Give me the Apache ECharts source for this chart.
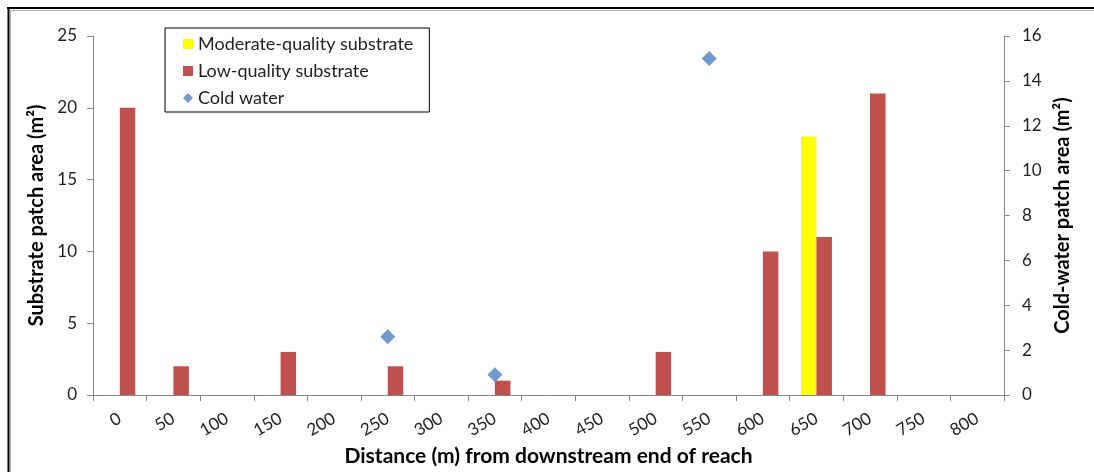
<!DOCTYPE html>
<html>
<head>
<meta charset="utf-8">
<title>Substrate and cold-water patches along the reach</title>
<script src="https://cdn.jsdelivr.net/npm/echarts@6/dist/echarts.min.js"></script>
<style>
  html, body { margin: 0; padding: 0; background: #fff; }
  #chart { width: 1094px; height: 472px; }
</style>
</head>
<body>
<div id="chart"></div>
<script>
// Distance from downstream end of reach (m)
const distances = ['0', '50', '100', '150', '200', '250', '300', '350', '400',
                   '450', '500', '550', '600', '650', '700', '750', '800'];

// Substrate patch areas (m²)
const moderateSubstrate = [null, null, null, null, null, null, null, null, null,
                           null, null, null, null, 18, null, null, null];
const lowSubstrate = [20, 2, null, 3, null, 2, null, 1, null,
                      null, 3, null, 10, 11, 21, null, null];

// Cold-water patch areas (m²)
const coldWater = [null, null, null, null, null, 2.6, null, 0.9, null,
                   null, null, 15, null, null, null, null, null];

const leftTicks = { min: 0, max: 25, interval: 5 };
const rightTicks = { min: 0, max: 16, interval: 2 };

const FONT = 'Lato';
const AXIS_GREY = '#868686';
const TEXT = '#1f1f1f';

const chart = echarts.init(document.getElementById('chart'), null, { renderer: 'canvas' });

const axisCommon = {
  axisLine: { show: true, lineStyle: { color: AXIS_GREY, width: 1 } },
  axisTick: { show: true, length: 6, lineStyle: { color: AXIS_GREY } },
  splitLine: { show: false },
  axisLabel: { color: TEXT, fontFamily: FONT, fontSize: 17 },
  nameTextStyle: { color: '#000', fontFamily: FONT, fontSize: 20, fontWeight: 'bold' }
};

chart.setOption({
  animation: false,
  backgroundColor: '#fff',
  grid: { left: 93, right: 90, top: 36, bottom: 76, containLabel: false },
  legend: {
    orient: 'vertical',
    left: 165,
    top: 28,
    padding: [6, 16, 4, 18],
    itemGap: 7,
    itemWidth: 10,
    itemHeight: 10,
    borderColor: '#000',
    borderWidth: 1,
    backgroundColor: '#fff',
    textStyle: { color: TEXT, fontFamily: FONT, fontSize: 18, lineHeight: 20 },
    data: [
      { name: 'Moderate-quality substrate', icon: 'rect' },
      { name: 'Low-quality substrate', icon: 'rect' },
      { name: 'Cold water', icon: 'diamond', itemStyle: { color: '#4f81bd' } }
    ]
  },
  xAxis: {
    type: 'category',
    data: distances,
    boundaryGap: true,
    name: 'Distance (m) from downstream end of reach',
    nameLocation: 'middle',
    nameGap: 51,
    ...axisCommon,
    nameTextStyle: { color: '#000', fontFamily: FONT, fontSize: 21, fontWeight: 'bold' },
    axisTick: { show: true, length: 6, alignWithLabel: false, lineStyle: { color: AXIS_GREY } },
    axisLabel: { color: TEXT, fontFamily: FONT, fontSize: 17, rotate: 30, margin: 22, interval: 0 }
  },
  yAxis: [
    {
      type: 'value',
      position: 'left',
      min: leftTicks.min,
      max: leftTicks.max,
      interval: leftTicks.interval,
      name: 'Substrate patch area (m²)',
      nameLocation: 'middle',
      nameRotate: 90,
      nameGap: 43,
      ...axisCommon,
      axisLabel: { color: TEXT, fontFamily: FONT, fontSize: 17, margin: 16 }
    },
    {
      type: 'value',
      position: 'right',
      min: rightTicks.min,
      max: rightTicks.max,
      interval: rightTicks.interval,
      name: 'Cold-water patch area (m²)',
      nameLocation: 'middle',
      nameRotate: 90,
      nameGap: 47,
      ...axisCommon,
      axisLabel: { color: TEXT, fontFamily: FONT, fontSize: 17, margin: 18 }
    }
  ],
  series: [
    {
      name: 'Moderate-quality substrate',
      type: 'bar',
      yAxisIndex: 0,
      data: moderateSubstrate,
      barWidth: 15.5,
      barGap: '0%',
      itemStyle: { color: '#ffff00' }
    },
    {
      name: 'Low-quality substrate',
      type: 'bar',
      yAxisIndex: 0,
      data: lowSubstrate,
      barWidth: 15.5,
      barGap: '0%',
      itemStyle: { color: '#c0504d' }
    },
    {
      name: 'Cold water',
      type: 'scatter',
      yAxisIndex: 1,
      data: coldWater,
      symbol: 'diamond',
      symbolSize: 15,
      itemStyle: { color: '#4f81bd' }
    }
  ],
  graphic: [
    // outer frame: dark top and left edges with a soft grey shadow inside
    { type: 'line', silent: true, shape: { x1: 8, y1: 10.5, x2: 1094, y2: 10.5 },
      style: { stroke: '#b0b0b0', lineWidth: 1 } },
    { type: 'line', silent: true, shape: { x1: 10.5, y1: 10, x2: 10.5, y2: 472 },
      style: { stroke: '#b0b0b0', lineWidth: 1 } },
    { type: 'line', silent: true, shape: { x1: 7, y1: 8, x2: 1094, y2: 8 },
      style: { stroke: '#000', lineWidth: 2 } },
    { type: 'line', silent: true, shape: { x1: 8.5, y1: 7, x2: 8.5, y2: 472 },
      style: { stroke: '#000', lineWidth: 2 } }
  ]
});
</script>
</body>
</html>
